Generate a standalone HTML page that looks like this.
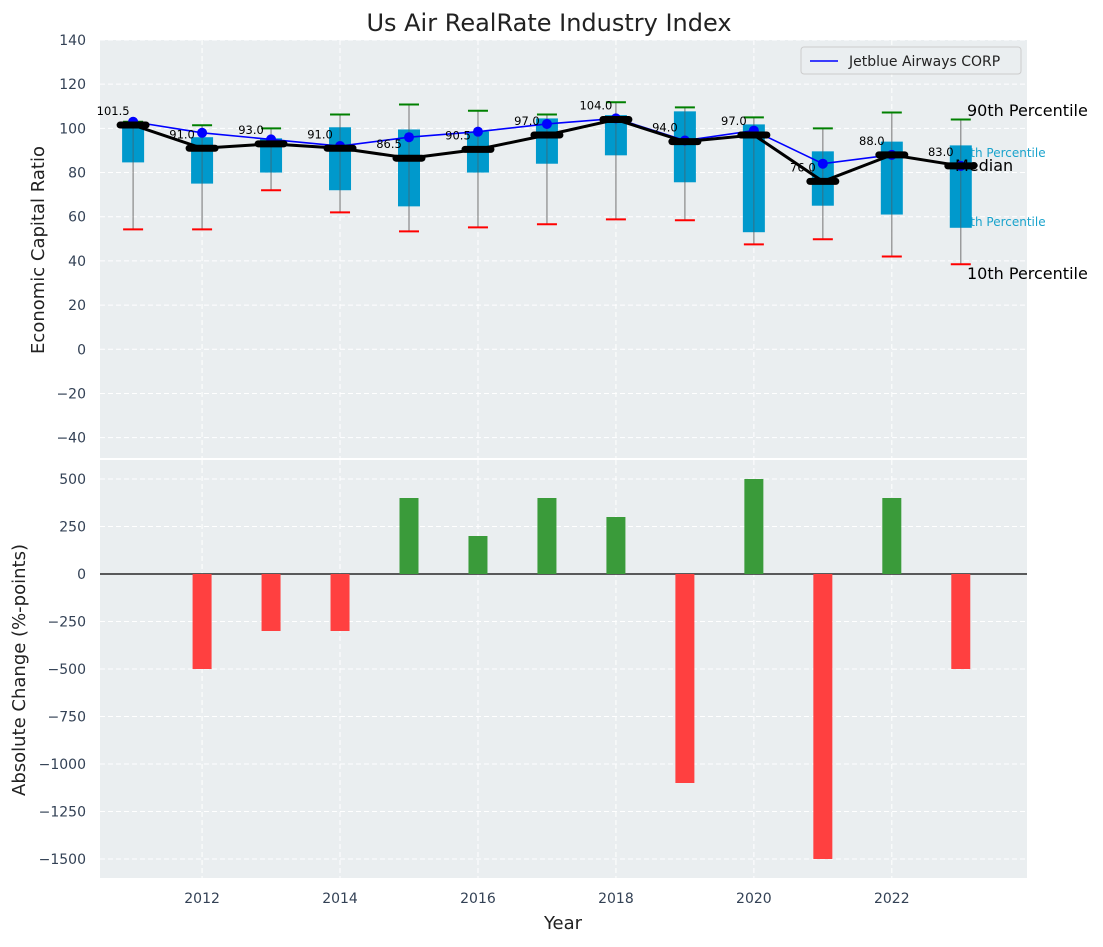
<!DOCTYPE html>
<html><head><meta charset="utf-8"><style>
body{margin:0;background:#fff;font-family:"Liberation Sans","DejaVu Sans",sans-serif;}
svg text{font-family:"DejaVu Sans","Liberation Sans",sans-serif;}
</style></head><body>
<svg id="chart" width="1103" height="942" xmlns="http://www.w3.org/2000/svg"></svg>
<script>
const years=[2011,2012,2013,2014,2015,2016,2017,2018,2019,2020,2021,2022,2023];
const medians=[101.5,91,93,91,86.5,90.5,97,104,94,97,76,88,83];
const jetblue=[103,98,95,92,96,98.5,102,104.5,94.5,99,84,88,83];
const p75=[103,96,95.5,100.5,99.5,98.6,104.5,106,107.7,101.8,89.6,94,92.3];
const p25=[84.6,75,80,72,64.7,80,84,87.8,75.6,53,65,61,55];
const p90=[103,101.4,100,106.3,110.8,108,106.3,111.8,109.5,105,100,107.2,104];
const p10=[54.3,54.3,72,62,53.4,55.2,56.6,58.8,58.4,47.5,49.8,42,38.5];
const changes=[0,-500,-300,-300,400,200,400,300,-1100,500,-1500,400,-500];
const topTicks=[-40,-20,0,20,40,60,80,100,120,140];
const botTicks=[-1500,-1250,-1000,-750,-500,-250,0,250,500];
const xTicks=[2012,2014,2016,2018,2020,2022];

const NS="http://www.w3.org/2000/svg";
const svg=document.getElementById('chart');
function el(tag,attrs,parent,text){const e=document.createElementNS(NS,tag);for(const k in attrs)e.setAttribute(k,attrs[k]);if(text!==undefined)e.textContent=text;(parent||svg).appendChild(e);return e;}
const L=100,R=1027;
const xs=v=>L+(v-2010.52)*(R-L)/(2023.96-2010.52);
const T1=40,B1=458;const y1=v=>T1+(140-v)*(B1-T1)/(140-(-49.2));
const T2=460,B2=878;const y2=v=>574-v*0.19;

let g=el('rect',{x:L,y:T1,width:R-L,height:B1-T1,fill:'#eaeef0'});

g=el('rect',{x:L,y:T2,width:R-L,height:B2-T2,fill:'#eaeef0'});


xTicks.forEach(t=>{
 el('line',{x1:xs(t),x2:xs(t),y1:T1,y2:B1,stroke:'#fff','stroke-dasharray':'5,3'});
 el('line',{x1:xs(t),x2:xs(t),y1:T2,y2:B2,stroke:'#fff','stroke-dasharray':'5,3'});
 const tx=el('text',{x:xs(t),y:903,'text-anchor':'middle','font-size':14,fill:'#334155'},null,t);
 
});
topTicks.forEach(t=>{
 el('line',{x1:L,x2:R,y1:y1(t),y2:y1(t),stroke:'#fff','stroke-dasharray':'5,3'});
 const tx=el('text',{x:L-14,y:y1(t)+5,'text-anchor':'end','font-size':14,fill:'#334155'},null,String(t).replace('-','\u2212'));
 
});
botTicks.forEach(t=>{
 el('line',{x1:L,x2:R,y1:y2(t),y2:y2(t),stroke:'#fff','stroke-dasharray':'5,3'});
 const tx=el('text',{x:L-14,y:y2(t)+5,'text-anchor':'end','font-size':14,fill:'#334155'},null,String(t).replace('-','\u2212'));
 
});

const lab=(x,y,txt,size,fill,name)=>{const t=el('text',{x:x,y:y,'font-size':size,fill:fill},null,txt);};
lab(967,116,'90th Percentile',16,'#000','label-90th');
lab(955,157,'75th Percentile',12,'#1aa3cc','label-75th');
lab(955,226,'25th Percentile',12,'#1aa3cc','label-25th');
lab(967,279,'10th Percentile',16,'#000','label-10th');

years.forEach((yr,i)=>{
 const x=xs(yr);
 let w=el('line',{x1:x,x2:x,y1:y1(p90[i]),y2:y1(p10[i]),stroke:'#888','stroke-width':1.2});
 
 let b=el('rect',{x:x-11,y:y1(p75[i]),width:22,height:y1(p25[i])-y1(p75[i]),fill:'#0099cc'});
 
 el('line',{x1:x,x2:x,y1:y1(p75[i]),y2:y1(p25[i]),stroke:'#555','stroke-width':1,opacity:0.6});
 let c=el('line',{x1:x-10,x2:x+10,y1:y1(p90[i]),y2:y1(p90[i]),stroke:'green','stroke-width':2});
 
 c=el('line',{x1:x-10,x2:x+10,y1:y1(p10[i]),y2:y1(p10[i]),stroke:'red','stroke-width':2});
 
});
lab(955,171,'Median',16,'#000','label-median');

let jp=el('polyline',{points:years.map((y,i)=>xs(y)+','+y1(jetblue[i])).join(' '),fill:'none',stroke:'blue','stroke-width':1.6});

years.forEach((y,i)=>{const p=el('circle',{cx:xs(y),cy:y1(jetblue[i]),r:5,fill:'blue'});});
let mp=el('polyline',{points:years.map((y,i)=>xs(y)+','+y1(medians[i])).join(' '),fill:'none',stroke:'#000','stroke-width':3});

years.forEach((y,i)=>{
 const m=el('line',{x1:xs(y)-13,x2:xs(y)+13,y1:y1(medians[i]),y2:y1(medians[i]),stroke:'#000','stroke-width':7,'stroke-linecap':'round'});
 
 const t=el('text',{x:xs(y)-20,y:y1(medians[i])-10,'text-anchor':'middle','font-size':11.5,fill:'#000'},null,medians[i].toFixed(1));
 
});

el('line',{x1:L,x2:R,y1:y2(0),y2:y2(0),stroke:'#000','stroke-width':1.2});
years.forEach((yr,i)=>{
 const v=changes[i];if(v===0)return;
 const b=el('rect',{x:xs(yr)-9.5,y:Math.min(y2(v),y2(0)),width:19,height:Math.abs(y2(v)-y2(0)),fill:v>0?'#3a9b3a':'#ff4040'});
 
});

const lg=el('g',{});
el('rect',{x:801,y:47,width:220,height:27,rx:3,fill:'#eaeef0',stroke:'#ccc'},lg);
el('line',{x1:810,x2:838,y1:61,y2:61,stroke:'blue','stroke-width':1.6},lg);
el('text',{x:849,y:66,'font-size':14,fill:'#222'},lg,'Jetblue Airways CORP');

let t=el('text',{x:549,y:31,'text-anchor':'middle','font-size':24,fill:'#222'},null,'Us Air RealRate Industry Index');

t=el('text',{x:563,y:929,'text-anchor':'middle','font-size':18,fill:'#222'},null,'Year');

t=el('text',{x:44,y:250,'text-anchor':'middle','font-size':18,fill:'#222',transform:'rotate(-90 44 250)'},null,'Economic Capital Ratio');

t=el('text',{x:25,y:670,'text-anchor':'middle','font-size':18,fill:'#222',transform:'rotate(-90 25 670)'},null,'Absolute Change (%-points)');

</script>
</body></html>
